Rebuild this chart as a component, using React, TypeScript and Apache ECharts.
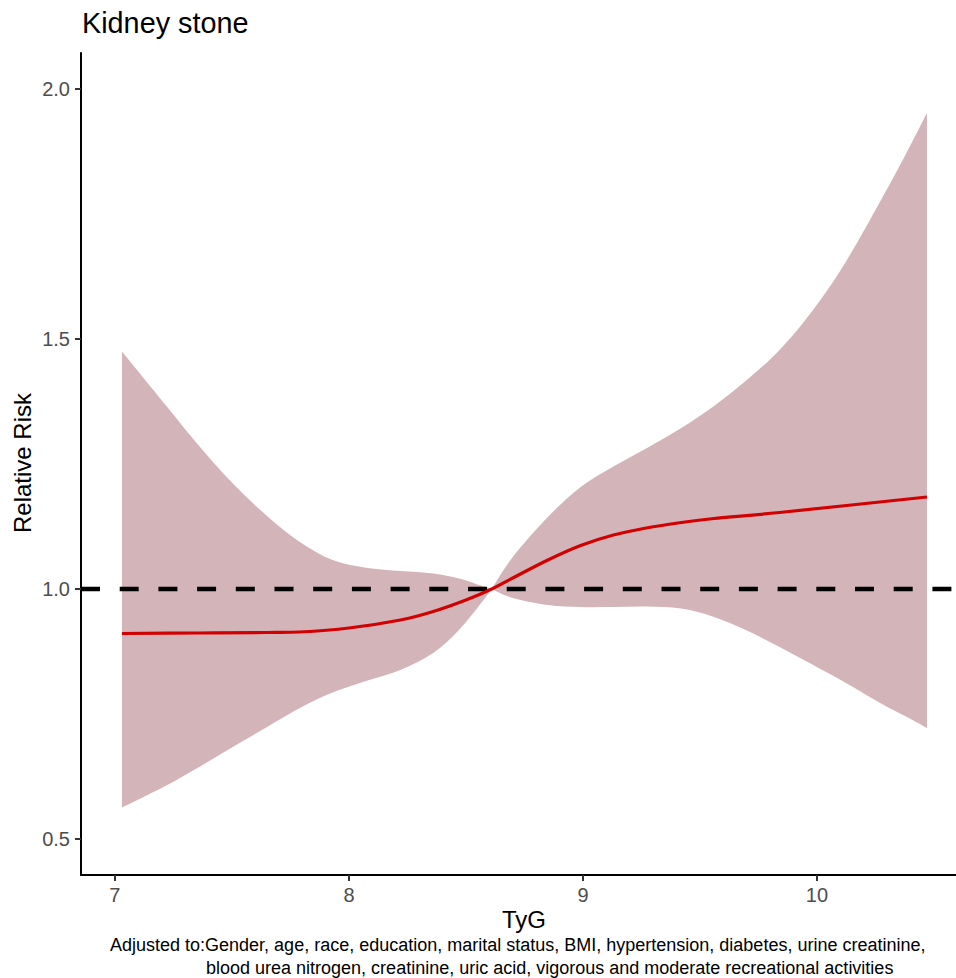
import React, { useEffect, useRef } from "react";
import * as echarts from "echarts";

// ---- Data ----
const BAND_X = [7.03, 7.22, 7.36, 7.5, 7.65, 7.79, 7.93, 8.08, 8.22, 8.36, 8.47, 8.57, 8.61, 8.7, 8.85, 8.99, 9.13, 9.27, 9.42, 9.56, 9.7, 9.84, 9.98, 10.12, 10.27, 10.38, 10.47];
const UPPER = [1.475, 1.366, 1.286, 1.213, 1.146, 1.094, 1.058, 1.042, 1.036, 1.031, 1.021, 1.006, 1.0, 1.064, 1.144, 1.204, 1.245, 1.281, 1.322, 1.366, 1.418, 1.478, 1.556, 1.652, 1.775, 1.87, 1.952];
const LOWER = [0.563, 0.607, 0.644, 0.683, 0.724, 0.762, 0.793, 0.817, 0.838, 0.872, 0.918, 0.975, 1.0, 0.982, 0.968, 0.964, 0.964, 0.965, 0.961, 0.944, 0.917, 0.884, 0.849, 0.813, 0.772, 0.745, 0.722];
const PINCH_INDEX = 12;

const FIT_X = [7.03, 7.36, 7.65, 7.79, 8.0, 8.22, 8.36, 8.5, 8.61, 8.7, 8.85, 8.99, 9.13, 9.27, 9.42, 9.56, 9.84, 10.47];
const FIT_Y = [0.911, 0.912, 0.913, 0.914, 0.922, 0.938, 0.955, 0.978, 1.0, 1.022, 1.058, 1.087, 1.108, 1.122, 1.133, 1.141, 1.153, 1.184];

const X_TICKS = [7, 8, 9, 10];
const Y_TICKS = [0.5, 1.0, 1.5, 2.0];
const REF_LINE = 1.0;
const X_RANGE = [6.855, 10.594];
const Y_RANGE = [0.428, 2.072];

const TITLE = "Kidney stone";
const X_NAME = "TyG";
const Y_NAME = "Relative Risk";
const CAPTION_1 = "Adjusted to:Gender, age, race, education, marital status, BMI, hypertension, diabetes, urine creatinine,";
const CAPTION_2 = "blood urea nitrogen, creatinine, uric acid, vigorous and moderate recreational activities";

const FONT = "'Liberation Sans', Arial, sans-serif";

type Pt = number[];

// Catmull-Rom drawing of a curve through pixel points (drawing only, no new data)
function traceSmooth(ctx: any, pts: Pt[], corners: Set<number>, move: boolean) {
  const n = pts.length;
  if (move) ctx.moveTo(pts[0][0], pts[0][1]);
  else ctx.lineTo(pts[0][0], pts[0][1]);
  for (let i = 0; i < n - 1; i++) {
    const p1 = pts[i];
    const p2 = pts[i + 1];
    const p0 = i === 0 || corners.has(i) ? p1 : pts[i - 1];
    const p3 = i + 2 > n - 1 || corners.has(i + 1) ? p2 : pts[i + 2];
    const c1x = p1[0] + (p2[0] - p0[0]) / 6;
    const c1y = p1[1] + (p2[1] - p0[1]) / 6;
    const c2x = p2[0] - (p3[0] - p1[0]) / 6;
    const c2y = p2[1] - (p3[1] - p1[1]) / 6;
    ctx.bezierCurveTo(c1x, c1y, c2x, c2y, p2[0], p2[1]);
  }
}

let registered = false;
function registerShapes() {
  if (registered) return;
  registered = true;
  echarts.graphic.registerShape(
    "ciBand",
    echarts.graphic.extendShape({
      shape: { up: [] as Pt[], lo: [] as Pt[], corner: -1 },
      buildPath(ctx: any, shape: any) {
        const up: Pt[] = shape.up;
        const lo: Pt[] = shape.lo;
        if (!up.length) return;
        const n = up.length;
        const c = shape.corner;
        traceSmooth(ctx, up, new Set(c >= 0 ? [c] : []), true);
        const loRev = lo.slice().reverse();
        traceSmooth(ctx, loRev, new Set(c >= 0 ? [n - 1 - c] : []), false);
        ctx.closePath();
      },
    })
  );
  echarts.graphic.registerShape(
    "smoothCurve",
    echarts.graphic.extendShape({
      shape: { pts: [] as Pt[] },
      buildPath(ctx: any, shape: any) {
        if (!shape.pts.length) return;
        traceSmooth(ctx, shape.pts, new Set(), true);
      },
    })
  );
}

export default function App() {
  const ref = useRef<HTMLDivElement>(null);

  useEffect(() => {
    if (!ref.current) return;
    registerShapes();
    const chart = echarts.init(ref.current, undefined, { renderer: "svg" });

    const bandData = BAND_X.map((x, i) => [x, LOWER[i], UPPER[i]]);
    const fitData = FIT_X.map((x, i) => [x, FIT_Y[i]]);

    chart.setOption({
      animation: false,
      backgroundColor: "#ffffff",
      textStyle: { fontFamily: FONT },
      grid: { left: 81, right: 0, top: 53, bottom: 103, containLabel: false },
      xAxis: {
        type: "value",
        min: X_RANGE[0],
        max: X_RANGE[1],
        splitLine: { show: false },
        axisLine: { show: true, onZero: false, lineStyle: { color: "#000000", width: 2 } },
        axisTick: { show: true, customValues: X_TICKS, length: 6, lineStyle: { color: "#333333", width: 2 } },
        axisLabel: {
          customValues: X_TICKS,
          color: "#4d4d4d",
          fontSize: 20,
          fontFamily: FONT,
          margin: 10,
          formatter: (v: number) => String(Math.round(v)),
        },
      },
      yAxis: {
        type: "value",
        min: Y_RANGE[0],
        max: Y_RANGE[1],
        splitLine: { show: false },
        axisLine: { show: true, onZero: false, lineStyle: { color: "#000000", width: 2 } },
        axisTick: { show: true, customValues: Y_TICKS, length: 6, lineStyle: { color: "#333333", width: 2 } },
        axisLabel: {
          customValues: Y_TICKS,
          color: "#4d4d4d",
          fontSize: 20,
          fontFamily: FONT,
          margin: 11,
          formatter: (v: number) => v.toFixed(1),
        },
      },
      series: [
        {
          type: "custom",
          name: "band",
          data: bandData,
          encode: { x: 0, y: [1, 2] },
          silent: true,
          z: 1,
          renderItem: (params: any, api: any) => {
            if (params.dataIndex !== 0) return null;
            const up = BAND_X.map((x, i) => api.coord([x, UPPER[i]]));
            const lo = BAND_X.map((x, i) => api.coord([x, LOWER[i]]));
            return {
              type: "ciBand",
              shape: { up, lo, corner: PINCH_INDEX },
              style: { fill: "#d3b5b9", stroke: null },
            };
          },
        },
        {
          type: "line",
          name: "ref",
          data: [
            [X_RANGE[0], REF_LINE],
            [X_RANGE[1], REF_LINE],
          ],
          symbol: "none",
          lineStyle: { color: "#000000", width: 4.5, type: [19, 19.7] },
          silent: true,
          z: 2,
        },
        {
          type: "custom",
          name: "fit",
          data: fitData,
          encode: { x: 0, y: 1 },
          silent: true,
          z: 3,
          renderItem: (params: any, api: any) => {
            if (params.dataIndex !== 0) return null;
            const pts = FIT_X.map((x, i) => api.coord([x, FIT_Y[i]]));
            return {
              type: "smoothCurve",
              shape: { pts },
              style: { fill: null, stroke: "#d20000", lineWidth: 3.2 },
            };
          },
        },
      ],
      graphic: [
        {
          type: "text",
          x: 82,
          y: 23,
          style: { text: TITLE, fill: "#000000", font: `28.8px ${FONT}`, textAlign: "left", textVerticalAlign: "middle" },
        },
        {
          type: "text",
          x: 22,
          y: 463,
          rotation: Math.PI / 2,
          style: { text: Y_NAME, fill: "#000000", font: `24px ${FONT}`, textAlign: "center", textVerticalAlign: "middle" },
        },
        {
          type: "text",
          x: 524,
          y: 919,
          style: { text: X_NAME, fill: "#000000", font: `24px ${FONT}`, textAlign: "center", textVerticalAlign: "middle" },
        },
        {
          type: "text",
          x: 110,
          y: 945,
          style: { text: CAPTION_1, fill: "#000000", font: `18px ${FONT}`, textAlign: "left", textVerticalAlign: "middle" },
        },
        {
          type: "text",
          x: 206,
          y: 968,
          style: { text: CAPTION_2, fill: "#000000", font: `18px ${FONT}`, textAlign: "left", textVerticalAlign: "middle" },
        },
      ],
    });

    return () => {
      chart.dispose();
    };
  }, []);

  return (
    <div
      ref={ref}
      style={{ position: "fixed", left: 0, top: 0, width: 956, height: 978, background: "#ffffff" }}
    />
  );
}
